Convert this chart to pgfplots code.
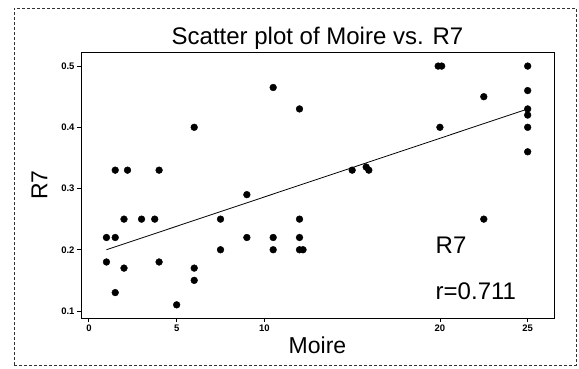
\documentclass[border=0pt]{standalone}
\usepackage{fontspec}
\setmainfont{Liberation Sans}
\usepackage{pgfplots}
\pgfplotsset{compat=1.18}
\begin{document}
\begin{tikzpicture}
\path[use as bounding box] (0pt,0pt) rectangle (579pt,368pt);
\draw[densely dashed, line width=0.8pt, black!80] (14pt,3pt) rectangle (576pt,360pt);
\begin{axis}[
  at={(81pt,50pt)}, anchor=south west,
  scale only axis, width=473pt, height=266pt,
  xmin=-0.45, xmax=26.5, ymin=0.0885, ymax=0.523,
  xtick={0,5,10,20,25}, ytick={0.1,0.2,0.3,0.4,0.5},
  xticklabels={0,5,10,20,25},
  yticklabels={0.1,0.2,0.3,0.4,0.5},
  tick align=outside, tick pos=left,
  major tick length=4pt,
  axis line style={line width=1pt},
  tick style={line width=0.8pt, black},
  ticklabel style={font=\fontsize{9.5}{10}\selectfont\bfseries},
  xticklabel style={yshift=1pt},
  yticklabel style={xshift=1pt},
  xlabel={Moire}, ylabel={R7},
  label style={font=\fontsize{23}{25}\selectfont},
  xlabel style={yshift=1pt},
  ylabel style={yshift=7pt},
  title={Scatter plot of Moire vs. R7},
  title style={font=\fontsize{24}{26}\selectfont, yshift=-7pt},
  clip=false,
]
\addplot[only marks, mark=*, mark size=3.4pt, black] coordinates {
(1,0.22) (1,0.18)
(1.5,0.33) (1.5,0.22) (1.5,0.13)
(2,0.25) (2,0.17)
(2.2,0.33)
(3,0.25)
(3.75,0.25)
(4,0.33) (4,0.18)
(5,0.11)
(6,0.40) (6,0.17) (6,0.15)
(7.5,0.25) (7.5,0.20)
(9,0.29) (9,0.22)
(10.5,0.465) (10.5,0.22) (10.5,0.20)
(12,0.43) (12,0.25) (12,0.22) (12,0.20) (12.2,0.20)
(15,0.33) (15.8,0.335) (15.95,0.33)
(19.9,0.50) (20.1,0.50) (20,0.40)
(22.5,0.45) (22.5,0.25)
(25,0.50) (25,0.46) (25,0.43) (25,0.42) (25,0.40) (25,0.36)
};
\addplot[black, line width=0.8pt] coordinates {(1,0.2) (24.9,0.429)};
\node[anchor=west, font=\fontsize{24}{26}\selectfont, inner sep=0pt] at (axis cs:19.75,0.207) {R7};
\node[anchor=west, font=\fontsize{24}{26}\selectfont, inner sep=0pt] at (axis cs:19.75,0.133) {r=0.711};
\end{axis}
\end{tikzpicture}
\end{document}
